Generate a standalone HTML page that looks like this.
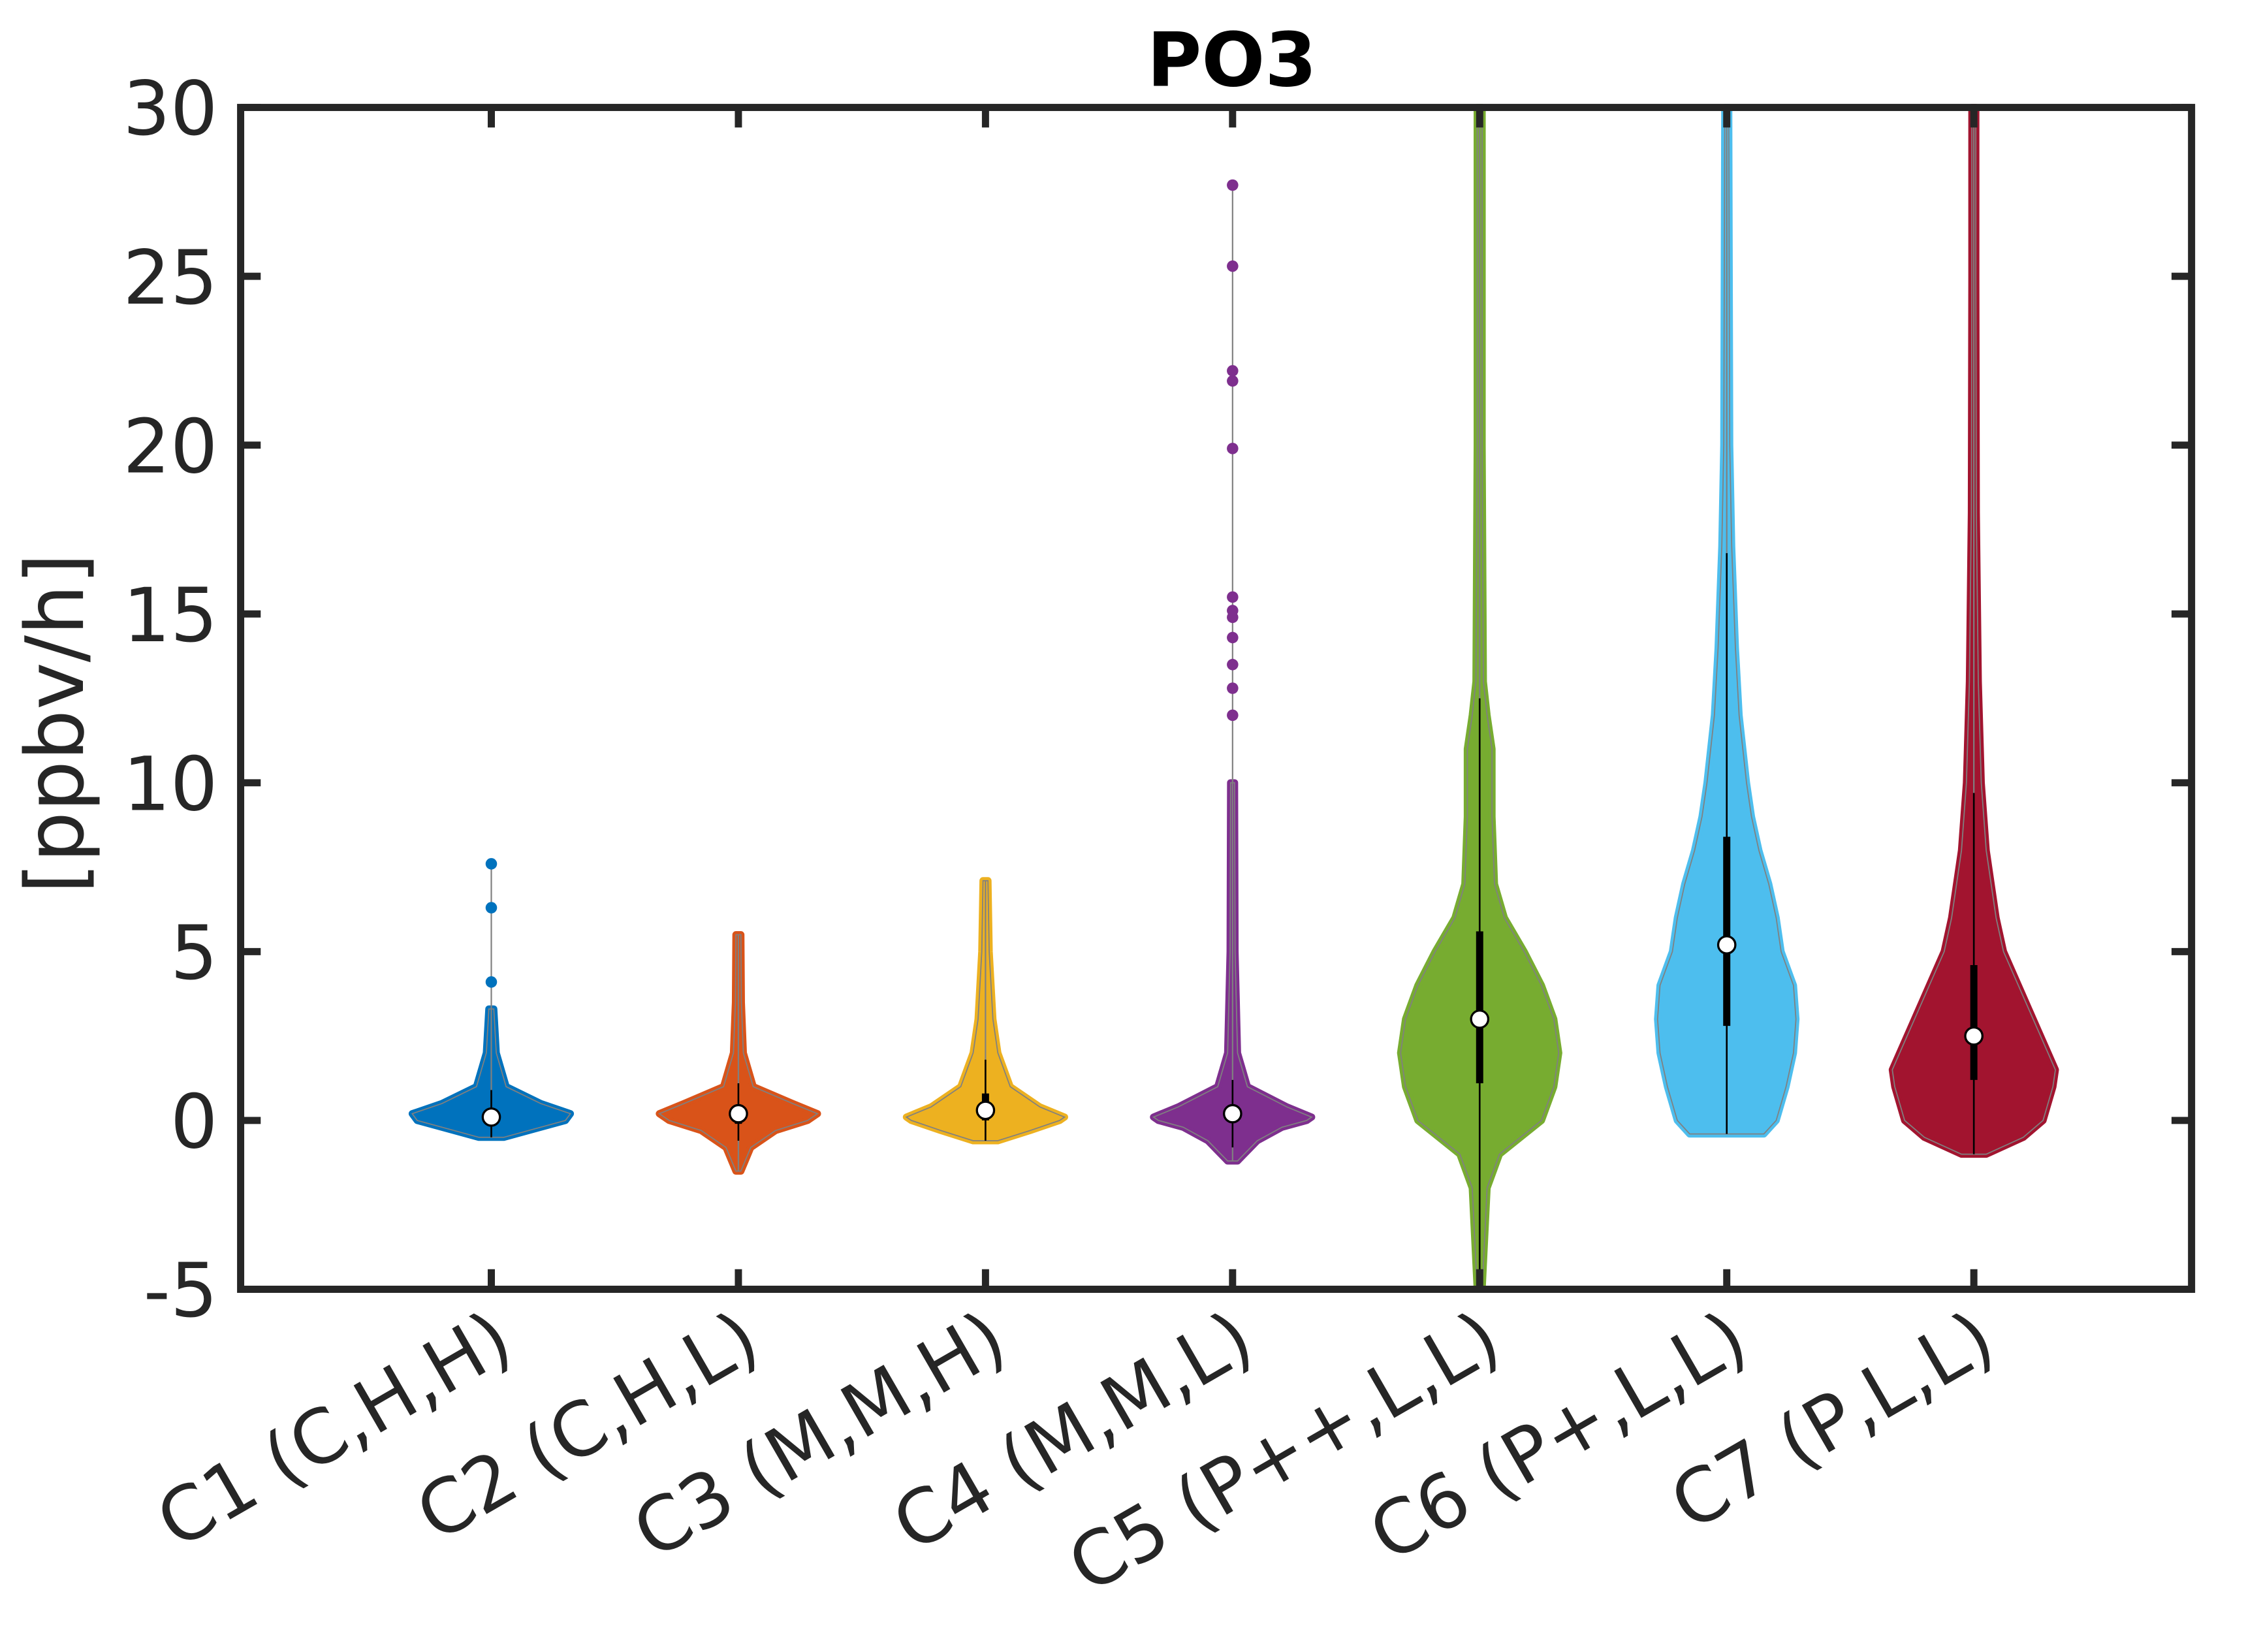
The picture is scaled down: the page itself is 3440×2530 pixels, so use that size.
<!DOCTYPE html>
<html><head><meta charset="utf-8"><style>
html,body{margin:0;padding:0;background:#fff;}
svg{display:block;font-family:"DejaVu Sans","Liberation Sans",sans-serif;}
</style></head><body>
<svg id="chart" width="3440" height="2530" viewBox="0 0 1568 1153.2" xmlns="http://www.w3.org/2000/svg">
<rect width="1568" height="1153.2" fill="#fff"/>
<text x="860" y="60" font-size="52" font-weight="bold" text-anchor="middle" fill="#000">PO3</text>
<text transform="translate(58,505) rotate(-90)" font-size="56" text-anchor="middle" fill="#262626">[ppbv/h]</text>
<g id="marks"></g>
<g id="axes"></g>
</svg>
<script>
const categories = ["C1 (C,H,H)","C2 (C,H,L)","C3 (M,M,H)","C4 (M,M,L)","C5 (P++,L,L)","C6 (P+,L,L)","C7 (P,L,L)"];
const colors = ["#0072BD","#D95319","#EDB120","#7E2F8E","#77AC30","#4DBEEE","#A2142F"];
const yTicks = [-5,0,5,10,15,20,25,30];
const medians = [0.1,0.2,0.3,0.2,3.0,5.2,2.5];
const q1s = [-0.1,-0.1,0.0,-0.05,1.1,2.8,1.2];
const q3s = [0.35,0.45,0.8,0.45,5.6,8.4,4.6];
const whiskLo = [-0.5,-0.6,-0.6,-0.8,-5,-0.4,-1.0];
const whiskHi = [0.9,1.1,1.8,1.2,12.5,16.8,9.7];
const profY = [
 [-0.5,-0.3,0,0.2,0.5,1,2,3.3],
 [-1.5,-0.8,-0.3,0,0.2,0.5,1,2,3.5,5.5],
 [-0.6,-0.3,0,0.1,0.4,1,2,3,5,7.1],
 [-1.2,-0.6,-0.2,0,0.1,0.4,1,2,5,10],
 [-5,-2,-1,0,1,2,3,4,5,6,7,9,11,12,13,20,30],
 [-0.4,0,1,2,3,4,5,6,7,8,9,10,12,14,17,20,25,30],
 [-1,-0.5,0,1,1.5,2,3,4,5,6,8,10,13,18,25,30]
];
const profW = [
 [0.05,0.15,0.3,0.32,0.2,0.06,0.02,0.01],
 [0.01,0.05,0.15,0.28,0.32,0.22,0.06,0.02,0.012,0.01],
 [0.05,0.18,0.3,0.32,0.22,0.1,0.05,0.03,0.015,0.01],
 [0.02,0.1,0.2,0.3,0.32,0.22,0.06,0.02,0.01,0.008],
 [0.01,0.03,0.08,0.25,0.3,0.32,0.3,0.25,0.18,0.1,0.06,0.05,0.05,0.03,0.015,0.01,0.01],
 [0.15,0.2,0.24,0.27,0.28,0.27,0.22,0.2,0.17,0.13,0.1,0.08,0.05,0.035,0.02,0.012,0.01,0.008],
 [0.05,0.2,0.28,0.32,0.33,0.3,0.24,0.18,0.12,0.09,0.05,0.03,0.018,0.01,0.008,0.008]
];
const outliers = [
 [4.1,6.3,7.6],[],[],
 [12,12.8,13.5,14.3,14.9,15.1,15.5,19.9,21.9,22.2,25.3,27.7],
 [],[],[]
];
const NS="http://www.w3.org/2000/svg";
const L=168,R=1530,T=75,B=900;
const xs=v=>170.5+v*172.5;
const ys=v=>T+(30-v)*(B-T)/35;
const marks=document.getElementById('marks'), axes=document.getElementById('axes');
function mk(tag,attrs,parent){const e=document.createElementNS(NS,tag);for(const k in attrs)e.setAttribute(k,attrs[k]);parent.appendChild(e);return e;}
categories.forEach((c,i)=>{
 const cx=xs(i+1), py=profY[i], pw=profW[i];
 const g=mk('g',{},marks);
 
 
 let d='';
 py.forEach((y,k)=>{d+=(k?'L':'M')+(cx+pw[k]*172.5)+','+ys(y);});
 for(let k=py.length-1;k>=0;k--) d+='L'+(cx-pw[k]*172.5)+','+ys(py[k]);
 d+='Z';
 const p=mk('path',{d:d,fill:colors[i],stroke:colors[i],'stroke-width':5,'stroke-linejoin':'round'},g);
 
 
 mk('path',{d:d,fill:'none',stroke:'#808080','stroke-width':0.8},g);
 const top=py[py.length-1];
 const ol=outliers[i];
 const maxY=Math.max(top,...(ol.length?ol:[top]));
 mk('line',{x1:cx,x2:cx,y1:ys(py[0]),y2:ys(maxY),stroke:'#808080','stroke-width':1},g);
 ol.forEach(o=>{const dot=mk('circle',{cx:cx,cy:ys(o),r:4,fill:colors[i]},g);
  
  });
 const w=mk('line',{x1:cx,x2:cx,y1:ys(whiskLo[i]),y2:ys(whiskHi[i]),stroke:'#000','stroke-width':1.2},g);
 
 
 const bx=mk('line',{x1:cx,x2:cx,y1:ys(q1s[i]),y2:ys(q3s[i]),stroke:'#000','stroke-width':5},g);
 
 
 const m=mk('circle',{cx:cx,cy:ys(medians[i]),r:6,fill:'#fff',stroke:'#000','stroke-width':1.5},g);
 
 
 const lab=mk('text',{transform:'translate('+(cx+18)+',945) rotate(-30)','font-size':52,'text-anchor':'end',fill:'#262626'},axes);
 lab.textContent=c;
 
 
 mk('line',{x1:cx,x2:cx,y1:B,y2:B-14,stroke:'#262626','stroke-width':5},axes);
 mk('line',{x1:cx,x2:cx,y1:T,y2:T+14,stroke:'#262626','stroke-width':5},axes);
});
yTicks.forEach(v=>{
 const y=ys(v);
 mk('line',{x1:L,x2:L+14,y1:y,y2:y,stroke:'#262626','stroke-width':5},axes);
 mk('line',{x1:R,x2:R-14,y1:y,y2:y,stroke:'#262626','stroke-width':5},axes);
 const t=mk('text',{x:152,y:y+19,'font-size':52,'text-anchor':'end',fill:'#262626'},axes);
 t.textContent=v;
 
 
});
const box=mk('rect',{x:L,y:T,width:R-L,height:B-T,fill:'none',stroke:'#262626','stroke-width':5},axes);


</script>
</body></html>
